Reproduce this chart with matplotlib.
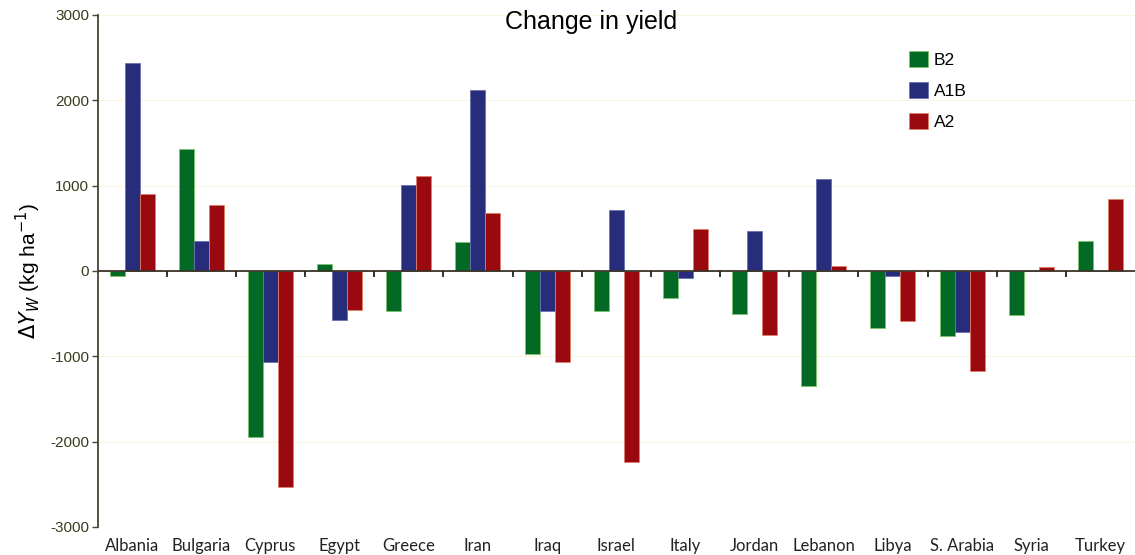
import matplotlib
matplotlib.use("Agg")
import matplotlib.pyplot as plt
import numpy as np

# values (kg/ha)
countries = ["Albania", "Bulgaria", "Cyprus", "Egypt", "Greece", "Iran", "Iraq",
             "Israel", "Italy", "Jordan", "Lebanon", "Libya", "S. Arabia",
             "Syria", "Turkey"]
b2 = [-60, 1430, -1950, 80, -470, 340, -970, -470, -320, -500, -1350, -670, -760, -520, 350]
a1b = [2440, 350, -1070, -580, 1010, 2120, -470, 710, -80, 470, 1080, -60, -720, 0, 0]
a2 = [900, 770, -2530, -460, 1110, 680, -1070, -2240, 490, -750, 60, -590, -1170, 50, 840]

series = [("B2", b2, "#026a24", "#7fc36a"),
          ("A1B", a1b, "#272d7a", "#6a70b0"),
          ("A2", a2, "#9b0910", "#e0806a")]
yticks = [-3000, -2000, -1000, 0, 1000, 2000, 3000]

fig = plt.figure(figsize=(11.35, 5.55), dpi=100)
ax = fig.add_axes([97.5 / 1135, 28 / 555, 1 - 97.5 / 1135, 512 / 555])

x = np.arange(len(countries))
w = 0.217
for i, (name, vals, col, edge) in enumerate(series):
    ax.bar(x + (i - 1) * w, vals, width=w, color=col, edgecolor=edge,
           linewidth=0.6, label=name, zorder=3)

ax.set_xlim(-0.5, len(countries) - 0.5)
ax.set_ylim(-3000, 3000)

# zero line with small ticks between the country groups
ax.axhline(0, color="#3a3428", linewidth=1.3, zorder=4)
ax.vlines(x[:-1] + 0.5, -75, 0, color="#222222", linewidth=1.3, zorder=4)

ax.set_yticks(yticks)
ax.set_yticklabels([str(v) for v in yticks], fontsize=11,
                   family="Liberation Sans", color="#3b3b1e")
ax.tick_params(axis="y", length=4, width=1, color="#4a4232", pad=2)
ax.grid(axis="y", color="#f6f6e2", linewidth=0.8, zorder=0)

ax.set_xticks(x)
ax.set_xticklabels(countries, fontsize=12, family="Lato", color="#222222")
ax.tick_params(axis="x", length=0, pad=8)

for s in ["top", "right", "bottom"]:
    ax.spines[s].set_visible(False)
ax.spines["left"].set_color("#4a4232")
ax.spines["left"].set_linewidth(1.3)

ax.set_ylabel(r"$\Delta Y_W$ (kg ha$^{-1}$)", fontsize=15,
              family="Liberation Sans", labelpad=5)

fig.text(591 / 1135, 1 - 22 / 555, "Change in yield", fontsize=18,
         family="Liberation Sans", ha="center", va="center")

ax.legend(loc="upper left", bbox_to_anchor=(909 / 1135, 1 - 51 / 555),
          bbox_transform=fig.transFigure, frameon=False, borderpad=0,
          borderaxespad=0, handlelength=1.12, handleheight=1.08,
          handletextpad=0.3, labelspacing=0.8,
          prop={"family": "Liberation Sans", "size": 12.5})

fig.savefig("out.png", dpi=100, facecolor="white")
